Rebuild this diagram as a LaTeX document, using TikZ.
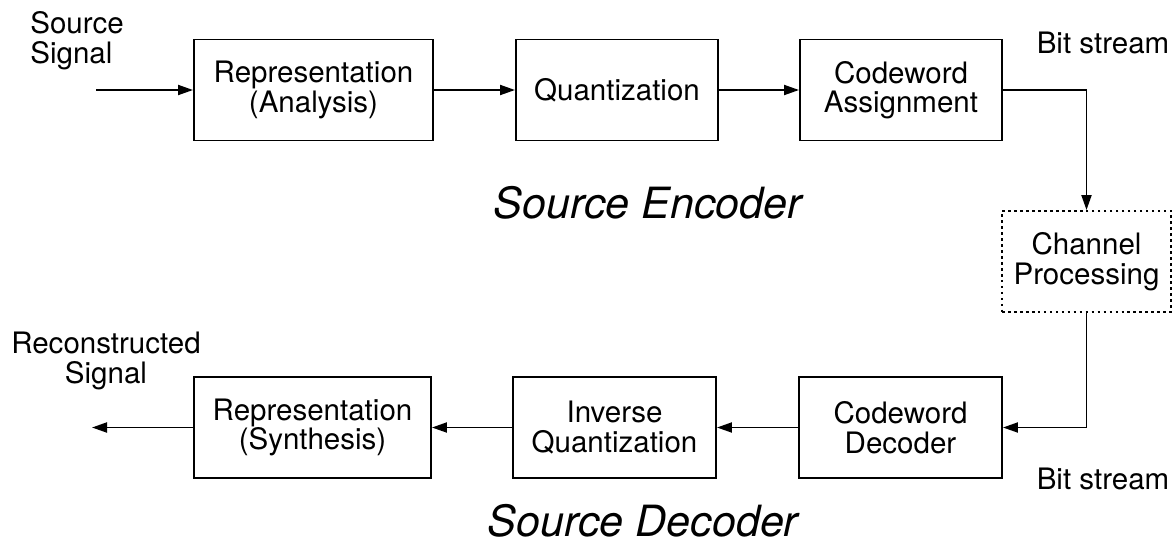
\documentclass[tikz,border=0pt]{standalone}
\usepackage{fontspec}
\setmainfont{TeX Gyre Heros}
\usetikzlibrary{arrows.meta}

\begin{document}
\begin{tikzpicture}[
		block/.style={draw, line width=1.1pt, minimum height=2.02cm, inner sep=0pt, align=center, font=\fontsize{16.8}{16.8}\selectfont},
		dottedbox/.style={dash pattern=on 1.5pt off 1.9pt},
		txt/.style={inner sep=0pt, font=\fontsize{16.8}{16.8}\selectfont},
		heading/.style={inner sep=0pt, font=\fontsize{24.5}{28}\selectfont\itshape},
		flow/.style={line width=1.1pt, -{Triangle[length=3mm,width=2mm]}}
	]
			\useasboundingbox (0,0) rectangle (23.52,-11.14);
			% encoder row
			\node[block, minimum width=4.78cm] (ana) at (6.27,-1.80) {Representation\\(Analysis)};
			\node[block, minimum width=4.04cm] (quant) at (12.34,-1.80) {Quantization};
			\node[block, minimum width=4.04cm] (cwa) at (18.02,-1.80) {Codeword\\Assignment};
			\node[block, dottedbox, minimum width=3.38cm] (chan) at (21.73,-5.23) {Channel\\Processing};
			% decoder row
			\node[block, minimum width=4.06cm] (cwd) at (18.01,-8.55) {Codeword\\Decoder};
			\node[block, minimum width=4.06cm] (iq) at (12.29,-8.55) {Inverse\\Quantization};
			\node[block, minimum width=4.74cm] (syn) at (6.25,-8.55) {Representation\\(Synthesis)};
			\coordinate (in) at (1.92,-1.80);
			\coordinate (out) at (1.84,-8.55);
			\node[txt, anchor=west, align=left] (srcsig) at (0.60,-0.81) {Source\\Signal};
			\node[txt, align=center] (recsig) at (2.12,-7.22) {Reconstructed\\Signal};
			\node[txt] (bitin) at (22.06,-0.86) {Bit stream};
			\node[txt] (bitout) at (22.06,-9.58) {Bit stream};
			\node[heading] (enc) at (12.96,-4.06) {Source Encoder};
			\node[heading] (dec) at (12.86,-10.42) {Source Decoder};
			\draw[flow] (in) -- (ana);
			\draw[flow] (ana) -- (quant);
			\draw[flow] (quant) -- (cwa);
			\draw[flow] (cwa.east) -| (chan.north);
			\draw[flow] (chan.south) |- (cwd.east);
			\draw[flow] (cwd) -- (iq);
			\draw[flow] (iq) -- (syn);
			\draw[flow] (syn) -- (out);
		\end{tikzpicture}
\end{document}
